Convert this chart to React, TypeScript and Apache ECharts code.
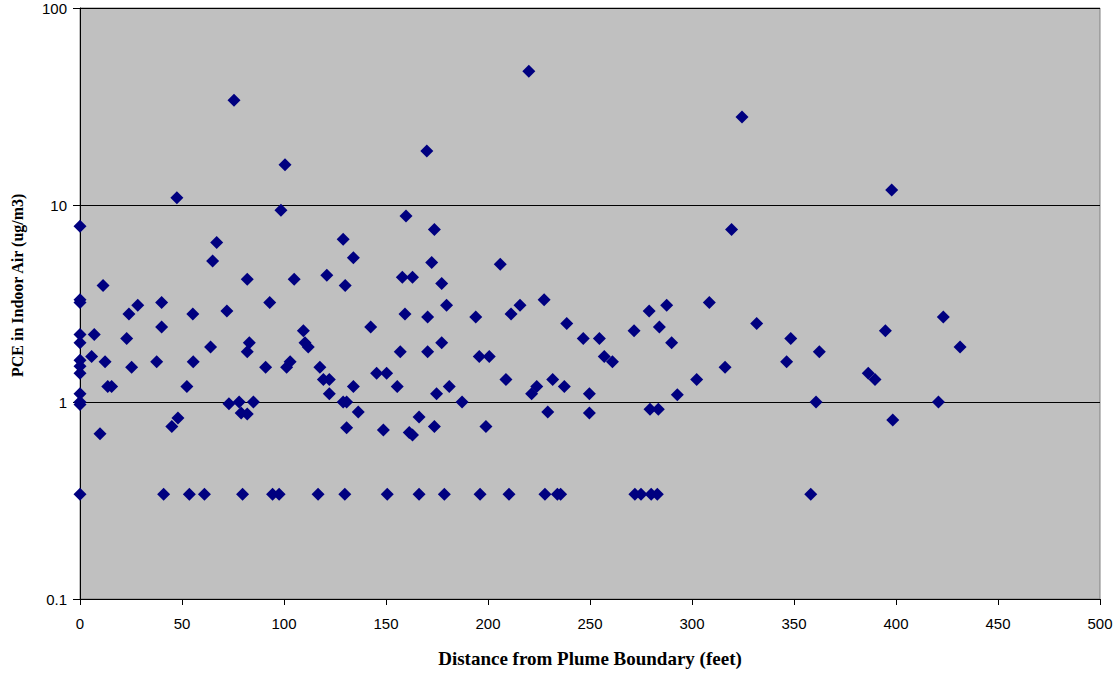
import React, { useEffect, useRef } from "react";
import * as echarts from "echarts";

const distanceFeet: number[] = [
  0, 0, 0, 0, 0, 0, 0, 0, 0, 0, 0, 0,
  5.7, 7, 9.8, 11.3, 12.3, 13.6, 15.5, 22.9, 24, 25.3, 28.3, 37.6,
  40, 40, 41, 45, 47.5, 48, 52.4, 53.6, 55.3, 55.5, 61, 64,
  65, 67, 72, 73, 75.5, 78, 79, 79.7, 82, 82, 82, 83,
  85, 91, 93, 94.4, 97.6, 98.5, 100.5, 101.3, 103, 105, 109.5, 110.3,
  111.9, 116.7, 117.6, 119.3, 121, 122.2, 122.2, 129, 129, 129.8, 130, 130.7,
  130.7, 134, 134, 136.4, 142.5, 145.4, 148.7, 150.3, 150.6, 155.5, 157, 158,
  159.3, 159.8, 161.4, 163, 163, 166.2, 166.2, 170, 170.4, 170.4, 172.4, 173.7,
  173.7, 174.8, 177.3, 177.3, 178.6, 179.7, 181, 187.3, 194, 195.7, 196.1, 199,
  200.6, 206, 208.8, 210.3, 211.3, 215.7, 220, 221.4, 223.9, 227.5, 227.9, 229.3,
  231.7, 234, 235.6, 237.4, 238.6, 246.7, 249.7, 249.7, 254.6, 257, 261, 271.6,
  272, 275, 279, 279.4, 280, 283, 283.5, 284, 287.6, 290, 292.8, 302.3,
  308.5, 316.2, 319.4, 324.5, 331.7, 346.4, 348.4, 358.2, 360.8, 362.4, 386.4, 389.7,
  394.8, 397.9, 398.4, 420.8, 423.2, 431.4,
];

const pceUgM3: number[] = [
  7.8, 3.3, 3.2, 2.2, 2.0, 1.63, 1.52, 1.4, 1.1, 1.0, 0.97, 0.34,
  1.7, 2.2, 0.69, 3.9, 1.6, 1.2, 1.2, 2.1, 2.8, 1.5, 3.1, 1.6,
  3.2, 2.4, 0.34, 0.75, 10.9, 0.83, 1.2, 0.34, 2.8, 1.6, 0.34, 1.9,
  5.2, 6.45, 2.9, 0.98, 34, 1.0, 0.88, 0.34, 0.87, 4.2, 1.8, 2.0,
  1.0, 1.5, 3.2, 0.34, 0.34, 9.4, 16, 1.5, 1.6, 4.2, 2.3, 2.0,
  1.9, 0.34, 1.5, 1.3, 4.4, 1.3, 1.1, 6.7, 1.0, 0.34, 3.9, 1.0,
  0.74, 5.4, 1.2, 0.89, 2.4, 1.4, 0.72, 1.4, 0.34, 1.2, 1.8, 4.3,
  2.8, 8.8, 0.7, 4.3, 0.68, 0.84, 0.34, 18.8, 2.7, 1.8, 5.1, 7.5,
  0.75, 1.1, 4.0, 2.0, 0.34, 3.1, 1.2, 1.0, 2.7, 1.7, 0.34, 0.75,
  1.7, 5.0, 1.3, 0.34, 2.8, 3.1, 47.8, 1.1, 1.2, 3.3, 0.34, 0.89,
  1.3, 0.34, 0.34, 1.2, 2.5, 2.1, 1.1, 0.88, 2.1, 1.7, 1.6, 2.3,
  0.34, 0.34, 2.9, 0.92, 0.34, 0.34, 0.92, 2.4, 3.1, 2.0, 1.09, 1.3,
  3.2, 1.5, 7.5, 28, 2.5, 1.6, 2.1, 0.34, 1.0, 1.8, 1.4, 1.3,
  2.3, 11.9, 0.81, 1.0, 2.7, 1.9,
];

const xTitle = "Distance from Plume Boundary (feet)";
const yTitle = "PCE in Indoor Air (ug/m3)";

export default function App() {
  const ref = useRef<HTMLDivElement>(null);

  useEffect(() => {
    if (!ref.current) return;
    const chart = echarts.init(ref.current, undefined, { renderer: "svg" });
    const points = distanceFeet.map((d, i) => [d, pceUgM3[i]]);
    chart.setOption({
      animation: false,
      backgroundColor: "#ffffff",
      grid: {
        left: 80,
        right: 17,
        top: 8,
        bottom: 72,
        show: true,
        backgroundColor: "#C0C0C0",
        borderColor: "#808080",
        borderWidth: 1,
      },
      xAxis: {
        type: "value",
        min: 0,
        max: 500,
        interval: 50,
        name: xTitle,
        nameLocation: "middle",
        nameGap: 50,
        nameTextStyle: {
          fontFamily: "Liberation Serif",
          fontWeight: "bold",
          fontSize: 19,
          color: "#000",
        },
        axisLine: { show: true, lineStyle: { color: "#000", width: 1 } },
        axisTick: { show: true, length: 6, lineStyle: { color: "#000" } },
        axisLabel: {
          fontFamily: "Liberation Sans",
          fontSize: 15,
          color: "#000",
          margin: 17,
        },
        splitLine: { show: false },
      },
      yAxis: {
        type: "log",
        logBase: 10,
        min: 0.1,
        max: 100,
        axisLine: { show: true, lineStyle: { color: "#000", width: 1 } },
        axisTick: { show: true, length: 7, lineStyle: { color: "#000" } },
        axisLabel: {
          fontFamily: "Liberation Sans",
          fontSize: 15,
          color: "#000",
          margin: 13,
          formatter: (v: number) => String(+v.toPrecision(3)),
        },
        splitLine: { show: true, lineStyle: { color: "#000", width: 1 } },
        minorTick: { show: false },
        minorSplitLine: { show: false },
      },
      graphic: [
        {
          type: "text",
          x: 17,
          y: 377,
          rotation: Math.PI / 2,
          style: {
            text: yTitle,
            font: 'bold 16px "Liberation Serif"',
            fill: "#000",
            textAlign: "left",
            textVerticalAlign: "middle",
            align: "left",
            verticalAlign: "middle",
          },
        },
      ],
      series: [
        {
          type: "scatter",
          symbol: "diamond",
          symbolSize: 13,
          itemStyle: { color: "#000080", opacity: 1 },
          data: points,
        },
      ],
    });
    return () => chart.dispose();
  }, []);

  return (
    <div
      ref={ref}
      style={{ position: "fixed", left: 0, top: 0, width: 1117, height: 673 }}
    />
  );
}
